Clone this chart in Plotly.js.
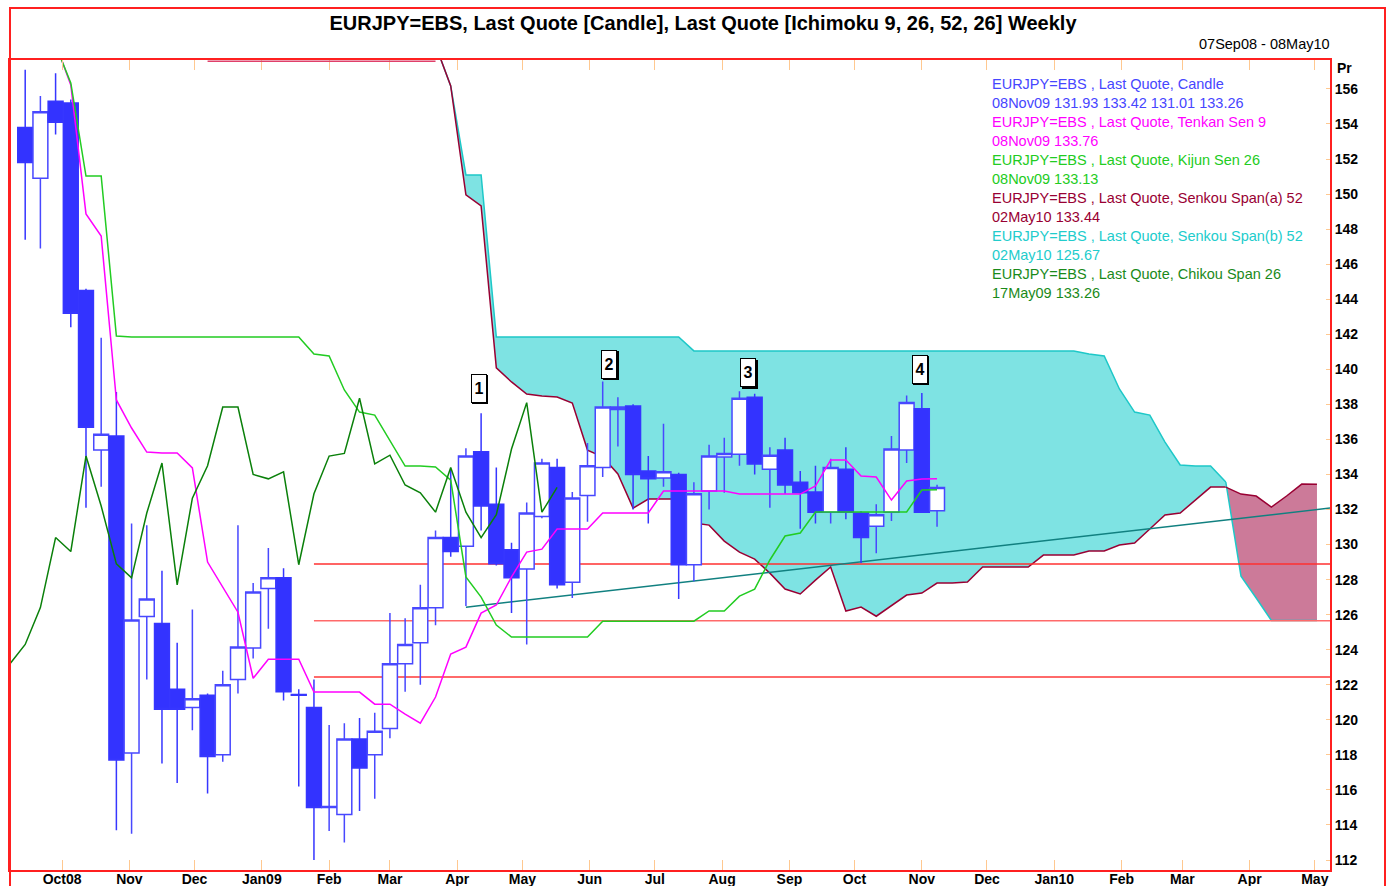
<!DOCTYPE html>
<html>
<head>
<meta charset="utf-8">
<script src="https://cdn.plot.ly/plotly-3.0.1.min.js"></script>
<style>
html,body{margin:0;padding:0;background:#ffffff;}
#chart{width:1388px;height:886px;}
</style>
</head>
<body>
<div id="chart"></div>
<script>
// Weekly dates (Sundays) from 07Sep08 to 02May10
const weeks = [
 '2008-09-07','2008-09-14','2008-09-21','2008-09-28','2008-10-05','2008-10-12','2008-10-19','2008-10-26',
 '2008-11-02','2008-11-09','2008-11-16','2008-11-23','2008-11-30','2008-12-07','2008-12-14','2008-12-21','2008-12-28',
 '2009-01-04','2009-01-11','2009-01-18','2009-01-25','2009-02-01','2009-02-08','2009-02-15','2009-02-22',
 '2009-03-01','2009-03-08','2009-03-15','2009-03-22','2009-03-29','2009-04-05','2009-04-12','2009-04-19','2009-04-26',
 '2009-05-03','2009-05-10','2009-05-17','2009-05-24','2009-05-31','2009-06-07','2009-06-14','2009-06-21','2009-06-28',
 '2009-07-05','2009-07-12','2009-07-19','2009-07-26','2009-08-02','2009-08-09','2009-08-16','2009-08-23','2009-08-30',
 '2009-09-06','2009-09-13','2009-09-20','2009-09-27','2009-10-04','2009-10-11','2009-10-18','2009-10-25',
 '2009-11-01','2009-11-08','2009-11-15','2009-11-22','2009-11-29','2009-12-06','2009-12-13','2009-12-20','2009-12-27',
 '2010-01-03','2010-01-10','2010-01-17','2010-01-24','2010-01-31','2010-02-07','2010-02-14','2010-02-21','2010-02-28',
 '2010-03-07','2010-03-14','2010-03-21','2010-03-28','2010-04-04','2010-04-11','2010-04-18','2010-04-25','2010-05-02'
];

// Candles: 14Sep08 .. 08Nov09
const candleStart = 1;
const candleOpen = [153.8,150.9,155.3,155.2,144.5,135.4,136.2,118.1,125.9,125.5,
 121.75,120.7,121.4,118.0,122.3,124.1,127.5,128.1,121.45,120.7,
 115.0,114.6,118.9,118.0,119.5,123.2,124.4,126.4,130.4,129.9,
 135.3,132.3,129.7,128.6,131.6,134.4,127.85,132.8,134.4,137.7,
 137.9,134.2,133.8,134.0,128.85,133.05,135.0,135.15,138.4,134.3,
 135.4,133.55,133.0,131.85,134.3,131.8,131.05,131.85,135.4,137.75,131.93];
const candleHigh = [157.1,155.6,156.9,155.4,144.6,141.8,138.7,131.2,131.1,128.5,
 124.4,126.3,121.5,122.8,131.1,127.8,129.8,128.65,121.75,122.3,
 119.7,119.8,120.1,120.4,126.1,125.8,127.7,130.8,134.3,135.5,
 137.5,134.4,130.1,132.4,134.9,134.9,133.0,135.8,139.3,138.4,
 138.0,135.05,136.9,134.1,133.55,135.7,136.1,138.75,138.6,135.55,
 136.1,134.2,134.5,134.9,135.55,131.9,132.3,136.2,138.5,138.65,133.42];
const candleLow = [147.4,146.9,153.4,142.4,132.1,133.3,113.7,113.5,122.3,117.5,
 116.4,119.4,115.8,117.6,121.5,123.5,125.2,121.1,116.2,112.0,
 113.65,113.0,114.8,115.5,118.95,121.6,122.0,125.4,129.3,126.5,
 130.8,128.8,126.1,124.3,131.5,127.5,126.95,131.3,133.85,135.6,
 132.0,131.2,133.3,126.9,127.9,132.0,132.95,134.5,134.0,132.1,
 132.9,130.9,131.2,131.2,131.45,128.95,129.5,131.35,134.65,131.8,131.01];
const candleClose = [151.8,154.7,154.1,143.2,136.7,136.3,117.7,125.7,126.9,120.6,
 120.6,121.2,117.9,122.0,124.15,127.3,128.1,121.6,121.4,115.0,
 115.05,118.9,117.25,119.35,123.2,124.3,126.4,130.4,129.6,135.05,
 132.2,128.9,128.1,131.8,134.65,127.7,132.65,134.5,137.85,137.85,
 134.0,133.75,134.15,128.85,132.9,135.05,135.2,138.35,134.6,135.1,
 133.4,132.95,131.85,134.4,131.85,130.4,131.7,135.45,138.1,131.85,133.26];

// Tenkan Sen 9 and Kijun Sen 26: 28Sep08 .. 08Nov09
const lineStart = 3;
const tenkan = [158.6,156.23,148.87,147.61,138.25,136.65,135.28,135.22,135.22,134.37,
 129.0,127.57,126.14,122.37,123.46,123.46,123.46,121.58,121.58,121.58,
 121.58,120.89,120.89,120.32,119.81,121.3,123.75,124.15,126.09,126.55,
 128.15,129.57,129.74,130.89,130.89,130.89,131.8,131.8,131.8,131.8,
 133.05,133.05,133.05,133.05,133.05,132.88,132.88,132.88,132.88,132.88,
 133.34,134.82,134.82,133.91,133.85,132.54,133.63,133.74,133.76];
const kijun = [158.5,156.34,151.03,151.03,141.9,141.84,141.84,141.84,141.84,141.84,
 141.84,141.84,141.84,141.84,141.84,141.84,141.84,140.87,140.76,138.82,
 137.56,137.39,135.97,134.48,134.48,134.43,133.68,128.15,127.0,125.41,
 124.72,124.72,124.72,124.72,124.72,124.72,125.63,125.63,125.63,125.63,
 125.63,125.63,125.63,126.21,126.21,127.06,127.46,129.12,130.49,130.66,
 131.86,131.86,131.86,131.86,131.86,131.86,131.86,133.11,133.13];

// Senkou Span (a) and (b): 22Mar09 .. 02May10
const senkouStart = 28;
const senkouA = [158.5,156.17,149.95,149.32,140.08,139.28,138.59,138.48,138.42,138.08,
 135.39,135.0,134.03,132.08,132.6,132.6,132.6,131.23,131.11,130.2,
 129.57,129.17,128.37,127.46,127.18,127.97,128.72,126.21,126.43,125.91,
 126.49,127.12,127.23,127.8,127.8,127.86,128.72,128.72,128.72,128.72,
 129.4,129.4,129.4,129.63,129.63,129.97,130.09,130.89,131.69,131.8,
 132.54,133.28,133.28,132.88,132.77,132.14,132.77,133.45,133.44];
const senkouB = [158.5,156.17,151.09,151.09,141.84,141.84,141.84,141.84,141.84,141.84,
 141.84,141.84,141.84,141.84,141.84,141.84,141.84,141.05,141.05,141.05,
 141.05,141.05,141.05,141.05,141.05,141.05,141.05,141.05,141.05,141.05,
 141.05,141.05,141.05,141.05,141.05,141.05,141.05,141.05,141.05,141.05,
 141.05,141.05,141.05,140.87,140.76,138.88,137.56,137.39,135.85,134.54,
 134.48,134.48,133.57,128.2,126.95,125.67,125.67,125.67,125.67];
const cloudSplit = 52; // week where the cloud changes colour (21Mar10)
const senkouClipStart = 13; // week (07Dec08) from which the off-scale senkou lines hug the top edge

// Chikou Span 26: 07Sep08 .. 17May09
const chikouStart = 0;
const chikou = [123.2,124.3,126.4,130.4,129.6,135.05,132.2,128.9,128.1,131.8,
 134.65,127.7,132.65,134.5,137.85,137.85,134.0,133.75,134.15,128.85,
 132.9,135.05,135.2,138.35,134.6,135.1,133.4,132.95,131.85,134.4,
 131.85,130.4,131.7,135.45,138.1,131.85,133.26];

// Horizontal support lines and trend line
const levelValues = [128.89, 125.65, 122.44];
const levelColors = ['#FF3030', '#FF6A6A', '#FF3838'];
const levelDates = ['2009-01-25', '2010-05-08'];
const trendDates = ['2009-04-05', '2010-05-08'];
const trendValues = [126.43, 132.08];

// Numbered markers
const markerLabels = ['1','2','3','4'];
const markerDates = ['2009-04-11','2009-06-10','2009-08-13','2009-10-31'];
const markerValues = [138.93, 140.30, 139.79, 140.0];

// Axis ticks
const monthTicks = ['2008-10-01','2008-11-01','2008-12-01','2009-01-01','2009-02-01','2009-03-01','2009-04-01',
 '2009-05-01','2009-06-01','2009-07-01','2009-08-01','2009-09-01','2009-10-01','2009-11-01','2009-12-01',
 '2010-01-01','2010-02-01','2010-03-01','2010-04-01','2010-05-01'];
const monthLabels = ['Oct08','Nov','Dec','Jan09','Feb','Mar','Apr','May','Jun','Jul','Aug','Sep','Oct','Nov','Dec',
 'Jan10','Feb','Mar','Apr','May'];
const priceTicks = [112,114,116,118,120,122,124,126,128,130,132,134,136,138,140,142,144,146,148,150,152,154,156];

// Legend text
const legendLines = [
 ['EURJPY=EBS , Last Quote, Candle', '#4646FF'],
 ['08Nov09 131.93 133.42 131.01 133.26', '#4646FF'],
 ['EURJPY=EBS , Last Quote, Tenkan Sen 9', '#FF00FF'],
 ['08Nov09 133.76', '#FF00FF'],
 ['EURJPY=EBS , Last Quote, Kijun Sen 26', '#22CC22'],
 ['08Nov09 133.13', '#22CC22'],
 ['EURJPY=EBS , Last Quote, Senkou Span(a) 52', '#990033'],
 ['02May10 133.44', '#990033'],
 ['EURJPY=EBS , Last Quote, Senkou Span(b) 52', '#22CCCC'],
 ['02May10 125.67', '#22CCCC'],
 ['EURJPY=EBS , Last Quote, Chikou Span 26', '#1A8A1A'],
 ['17May09 133.26', '#1A8A1A']
];

const FONT = 'Liberation Sans, Arial, Helvetica, sans-serif';
const W = 1388, H = 886;
const M = {l:10, r:58, t:60, b:16};
const PW = W - M.l - M.r, PH = H - M.t - M.b;
const px2x = p => (p - M.l) / PW;
const px2y = p => (H - M.b - p) / PH;
const X_RANGE = ['2008-09-07','2010-05-08'];
const Y_RANGE = [111.43, 157.65];

function slice(arr, start, n) { return arr.slice(start, start + n); }

const candleX = slice(weeks, candleStart, candleClose.length);
const lineX = slice(weeks, lineStart, tenkan.length);
const senkouX = slice(weeks, senkouStart, senkouA.length);
const chikouX = slice(weeks, chikouStart, chikou.length);

const CYAN_LINE = '#1EC8C8', MAROON = '#990033';
const traces = [];

// ---- base subplot (x, y): cloud, levels, trend line ----
traces.push({x: senkouX.slice(0, cloudSplit + 1), y: senkouB.slice(0, cloudSplit + 1), type:'scatter', mode:'lines',
  line:{color:CYAN_LINE, width:1.5}, hoverinfo:'skip'});
traces.push({x: senkouX.slice(0, cloudSplit + 1), y: senkouA.slice(0, cloudSplit + 1), type:'scatter', mode:'lines',
  fill:'tonexty', fillcolor:'#7EE3E3', line:{color:MAROON, width:1.5}, hoverinfo:'skip'});
traces.push({x: senkouX.slice(cloudSplit), y: senkouB.slice(cloudSplit), type:'scatter', mode:'lines',
  line:{color:CYAN_LINE, width:1.5}, hoverinfo:'skip'});
traces.push({x: senkouX.slice(cloudSplit), y: senkouA.slice(cloudSplit), type:'scatter', mode:'lines',
  fill:'tonexty', fillcolor:'#CC7A99', line:{color:MAROON, width:1.5}, hoverinfo:'skip'});
levelValues.forEach((v, i) => {
  traces.push({x: levelDates, y: [v, v], type:'scatter', mode:'lines',
    line:{color: levelColors[i], width:1.5}, hoverinfo:'skip'});
});
traces.push({x: trendDates, y: trendValues, type:'scatter', mode:'lines',
  line:{color:'#118080', width:1.5}, hoverinfo:'skip'});

// ---- overlay subplot (x2, y2): candles and Ichimoku lines, drawn above the cloud ----
traces.push({
  type:'candlestick', xaxis:'x2', yaxis:'y2',
  x: candleX, open: candleOpen, high: candleHigh, low: candleLow, close: candleClose,
  increasing:{line:{color:'#4848FF', width:1.5}, fillcolor:'#FFFFFF'},
  decreasing:{line:{color:'#3636FF', width:1.5}, fillcolor:'#3333FF'},
  whiskerwidth:0, hoverinfo:'skip'
});
traces.push({x: lineX, y: tenkan, xaxis:'x2', yaxis:'y2', type:'scatter', mode:'lines',
  line:{color:'#FF00FF', width:1.5}, hoverinfo:'skip'});
traces.push({x: lineX, y: kijun, xaxis:'x2', yaxis:'y2', type:'scatter', mode:'lines',
  line:{color:'#22CC22', width:1.5}, hoverinfo:'skip'});
traces.push({x: chikouX, y: chikou, xaxis:'x2', yaxis:'y2', type:'scatter', mode:'lines',
  line:{color:'#0A800A', width:1.5}, hoverinfo:'skip'});

const annotations = [];
legendLines.forEach((ln, i) => {
  annotations.push({
    xref:'paper', yref:'paper', x: px2x(990), y: px2y(84 + i * 19.0),
    xanchor:'left', yanchor:'middle', showarrow:false, text: ln[0],
    font:{family:FONT, size:14.5, color: ln[1]}
  });
});
markerLabels.forEach((t, i) => {
  annotations.push({x: markerDates[i], y: markerValues[i], xref:'x', yref:'y', text: t, showarrow:false,
    xshift:1.5, yshift:-1.5, bgcolor:'#000000', bordercolor:'#000000', borderwidth:1, borderpad:1,
    width:12, height:25, font:{family:FONT, size:16, color:'#000000', weight:'bold'}});
  annotations.push({x: markerDates[i], y: markerValues[i], xref:'x', yref:'y', text: t, showarrow:false,
    bgcolor:'#FFFFFF', bordercolor:'#000000', borderwidth:1, borderpad:1,
    width:12, height:25, font:{family:FONT, size:16, color:'#000000', weight:'bold'}});
});
annotations.push({xref:'paper', yref:'paper', x: px2x(1332), y: px2y(44), xanchor:'right', yanchor:'middle',
  showarrow:false, text:'07Sep08 - 08May10', font:{family:FONT, size:14.5, color:'#000000'}});
annotations.push({xref:'paper', yref:'paper', x: px2x(1335), y: px2y(68), xanchor:'left', yanchor:'middle',
  showarrow:false, text:'Pr', font:{family:FONT, size:14, color:'#000000', weight:'bold'}});

const layout = {
  width: W, height: H,
  margin: M,
  paper_bgcolor:'#FFFFFF', plot_bgcolor:'#FFFFFF',
  showlegend:false,
  boxgap: 0.02,
  boxgroupgap: 0,
  title:{text:'EURJPY=EBS, Last Quote [Candle], Last Quote [Ichimoku 9, 26, 52, 26] Weekly',
    xref:'container', yref:'container', x: 703 / W, y: 1 - 23 / H, xanchor:'center', yanchor:'middle',
    font:{family:FONT, size:20, color:'#000000', weight:'bold'}},
  xaxis:{type:'date', range: X_RANGE, tickvals: monthTicks, ticktext: monthLabels,
    ticks:'inside', ticklen:10, tickwidth:1, tickcolor:'#FFC890', mirror:'ticks',
    showline:true, linecolor:'#FF2020', linewidth:2, showgrid:false, zeroline:false,
    rangeslider:{visible:false}, fixedrange:true, ticklabelstandoff:-5,
    tickfont:{family:FONT, size:14, color:'#000000', weight:'bold'}},
  yaxis:{range: Y_RANGE, side:'right', tickvals: priceTicks,
    ticks:'inside', ticklen:4, tickwidth:1, tickcolor:'#FFC890', mirror:true,
    showline:true, linecolor:'#FF2020', linewidth:2, showgrid:false, zeroline:false, fixedrange:true,
    tickfont:{family:FONT, size:14, color:'#000000', weight:'bold'}},
  xaxis2:{type:'date', range: X_RANGE, overlaying:'x', visible:false, showgrid:false, zeroline:false,
    rangeslider:{visible:false}, fixedrange:true},
  yaxis2:{range: Y_RANGE, overlaying:'y', side:'right', visible:false, showgrid:false, zeroline:false, fixedrange:true},
  annotations: annotations,
  shapes:[
    // off-scale senkou lines pressed against the top edge
    {type:'line', xref:'x', yref:'paper', x0: weeks[senkouClipStart], x1: senkouX[0], y0: 1 - 1.2 / PH, y1: 1 - 1.2 / PH,
     line:{color:'#E0406A', width:1.5}, layer:'above'},
    {type:'rect', xref:'paper', yref:'paper', x0: px2x(10), x1: px2x(1385), y0: px2y(895), y1: px2y(8),
     line:{color:'#FF2020', width:2}, fillcolor:'rgba(0,0,0,0)', layer:'above'}
  ]
};

Plotly.newPlot('chart', traces, layout, {displayModeBar:false, staticPlot:true});
</script>
</body>
</html>
